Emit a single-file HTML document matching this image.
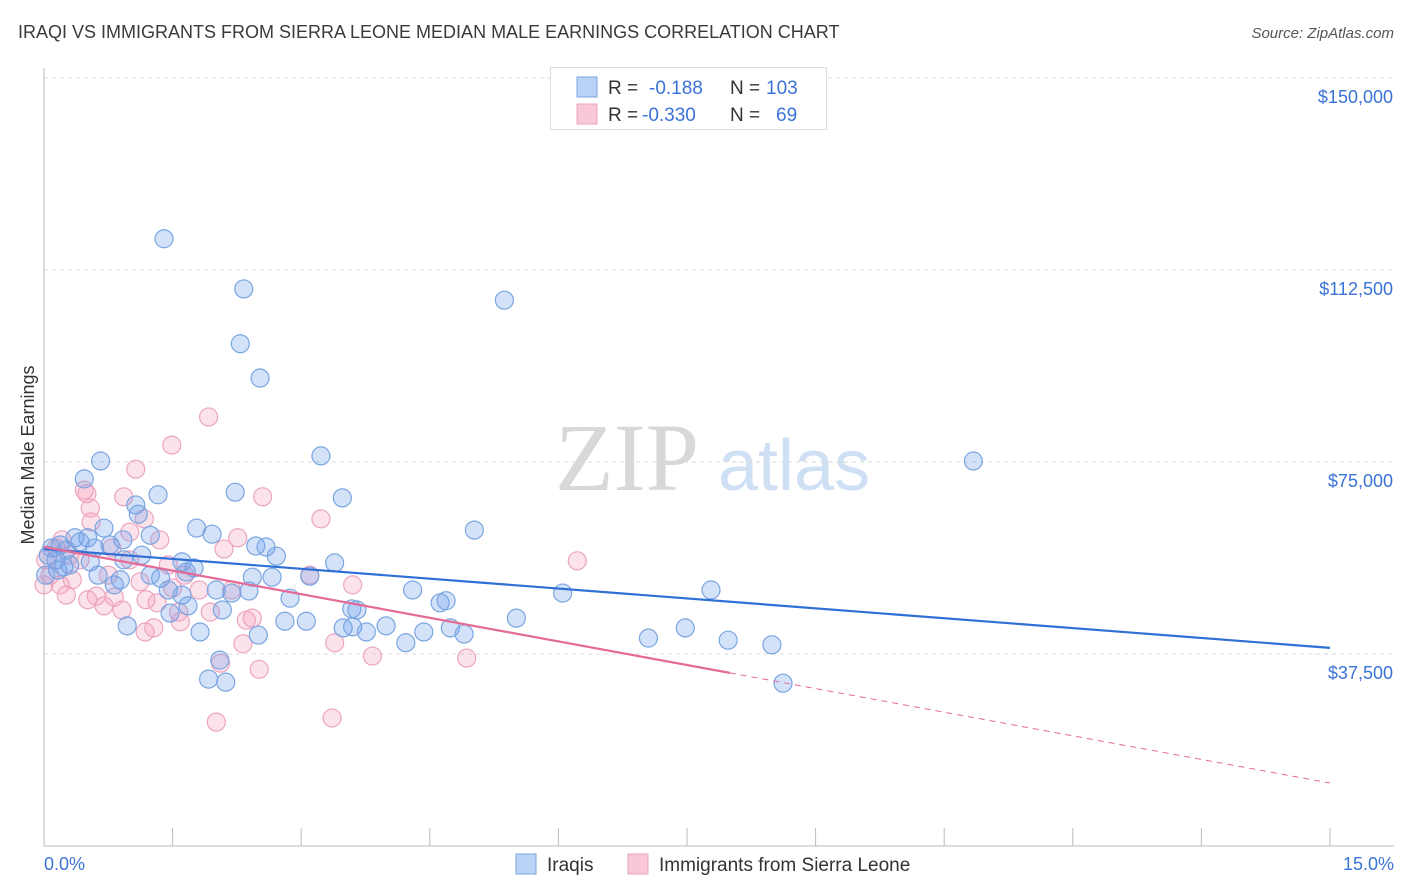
<!DOCTYPE html>
<html><head><meta charset="utf-8">
<style>
body{margin:0;background:#fff;font-family:"Liberation Sans",sans-serif;}
#wrap{position:relative;width:1406px;height:892px;overflow:hidden;}
.t{position:absolute;white-space:nowrap;}
</style></head><body>
<div id="wrap">
<div class="t" style="left:18px;top:22px;font-size:18px;color:#3a3a3a;">IRAQI VS IMMIGRANTS FROM SIERRA LEONE MEDIAN MALE EARNINGS CORRELATION CHART</div>
<div class="t" style="right:12px;top:25px;font-size:15px;color:#555;font-style:italic;">Source: ZipAtlas.com</div>
<svg id="svg" width="1406" height="892" style="position:absolute;left:0;top:0"></svg>
</div>
<script>
const xTicks=[0,1.5,3,4.5,6,7.5,9,10.5,12,13.5,15];
const yTicks=[37.5,75,112.5,150];
const yTickLabels=["$37,500","$75,000","$112,500","$150,000"];
const iraqX=[1.40,2.33,2.29,2.52,5.37,10.84,0.66,3.23,0.47,1.33,2.23,3.48,1.07,1.10,5.02,1.78,1.96,0.70,1.24,0.36,0.51,0.92,0.19,0.09,0.05,0.14,0.23,0.54,0.93,1.14,1.61,1.75,2.47,2.59,2.71,3.39,0.63,0.89,0.82,1.24,1.36,1.66,2.43,2.66,3.10,1.45,1.61,2.01,2.19,2.39,2.87,4.30,6.05,7.78,4.62,4.69,1.68,2.08,3.59,3.65,1.47,5.51,2.81,3.06,0.97,1.82,2.50,3.49,3.60,3.76,3.99,4.22,4.43,4.74,4.90,7.05,7.48,7.98,8.49,2.05,1.92,2.12,8.62,0.16,0.30,0.42,0.26,0.02,0.77,0.59];
const iraqY=[118.6,108.8,98.1,91.4,106.6,75.2,75.2,76.2,71.7,68.6,69.1,68.0,66.6,64.8,61.7,62.1,60.9,62.1,60.7,60.2,60.2,59.8,58.8,58.2,56.8,55.9,54.5,55.5,55.9,56.8,55.5,54.3,58.6,58.4,56.6,55.3,52.9,52.0,51.0,52.9,52.3,53.5,52.5,52.5,52.7,50.0,49.0,50.0,49.4,49.8,48.4,50.0,49.4,50.0,47.5,47.9,46.9,46.1,46.3,46.1,45.5,44.5,43.9,43.9,43.0,41.8,41.2,42.6,42.8,41.8,43.0,39.7,41.8,42.6,41.4,40.6,42.6,40.2,39.3,36.3,32.6,32.0,31.8,53.9,54.9,59.4,57.8,52.9,58.8,58.2];
const sierraX=[1.92,1.49,1.07,0.47,0.50,0.93,2.55,1.17,0.54,0.55,1.00,3.23,2.26,2.10,1.35,0.21,0.14,0.30,0.02,0.07,0.19,0.33,0.42,0.79,1.00,0.75,1.12,1.45,1.64,1.50,1.81,2.19,3.10,3.60,6.22,0.61,0.82,1.19,1.32,0.91,0.70,1.57,1.94,2.36,2.43,1.59,1.18,1.28,2.32,3.39,3.83,4.93,2.06,2.51,2.01,3.36,0.00,0.26,0.51];
const sierraY=[83.8,78.3,73.6,69.5,68.8,68.2,68.2,63.9,66.0,63.3,61.3,63.9,60.2,58.0,59.8,59.8,58.2,56.8,55.9,52.9,51.0,52.0,55.9,58.2,55.9,52.9,51.6,54.9,52.9,50.4,50.0,50.0,52.9,51.0,55.7,48.8,48.6,48.1,47.5,46.1,46.9,45.7,45.7,44.1,44.5,43.8,41.8,42.6,39.5,39.7,37.1,36.7,35.7,34.5,24.2,25.0,51.0,49.0,48.1];
const iraqTrend=[58.0,38.7];
const sierraTrend=[58.4,12.3];
const sierraSolidEnd=8.0;

const X=v=>44+v/15*1286;
const Y=v=>78+(150-v)/37.5*192;
const svg=document.getElementById('svg');
const NS='http://www.w3.org/2000/svg';
function mk(tag,attrs,parent){const e=document.createElementNS(NS,tag);for(const k in attrs)e.setAttribute(k,attrs[k]);(parent||svg).appendChild(e);return e;}

// watermark
let wm=mk('text',{x:555,y:490,'font-size':96,fill:'#d8d8d8','font-family':'Liberation Serif, serif'});wm.textContent='ZIP';

let wm2=mk('text',{x:718,y:490,'font-size':72,fill:'#cfe0f5','font-family':'Liberation Sans, sans-serif'});wm2.textContent='atlas';


// gridlines
yTicks.forEach((t,i)=>{
 const g=mk('line',{x1:44,x2:1394,y1:Y(t),y2:Y(t),stroke:'#d8d8d8','stroke-dasharray':'4,4'});
 
 const l=mk('text',{x:1393,y:Y(t)+25,'text-anchor':'end','font-size':18,fill:'#3b73d6'});l.textContent=yTickLabels[i];
 
});
// axes
let ax=mk('line',{x1:44,x2:1394,y1:846,y2:846,stroke:'#bbb'});
let ay=mk('line',{x1:44,x2:44,y1:68,y2:846,stroke:'#bbb'});
xTicks.forEach(t=>{const k=mk('line',{x1:X(t),x2:X(t),y1:828,y2:846,stroke:'#bbb'});});
let x0=mk('text',{x:44,y:870,'font-size':18,fill:'#3b73d6'});x0.textContent='0.0%';
let x1=mk('text',{x:1394,y:870,'font-size':18,fill:'#3b73d6','text-anchor':'end'});x1.textContent='15.0%';
let yt=mk('text',{x:0,y:0,'font-size':18,fill:'#333','text-anchor':'middle',transform:'translate(34,455) rotate(-90)'});yt.textContent='Median Male Earnings';

// points
function pts(xs,ys,fill,stroke,name){xs.forEach((x,i)=>{const c=mk('circle',{cx:X(x),cy:Y(ys[i]),r:9,fill:fill,stroke:stroke,'stroke-width':1.2});
 });}
pts(sierraX,sierraY,'rgba(244,160,190,0.3)','#eca5bf','sierra-leone-point');
pts(iraqX,iraqY,'rgba(110,160,235,0.3)','#7aa5e0','iraqi-point');

// trends
let tb=mk('line',{x1:X(0),y1:Y(iraqTrend[0]),x2:X(15),y2:Y(iraqTrend[1]),stroke:'#2f6fd6','stroke-width':2.2});

const sy=x=>sierraTrend[0]+(sierraTrend[1]-sierraTrend[0])*x/15;
let tp=mk('line',{x1:X(0),y1:Y(sy(0)),x2:X(sierraSolidEnd),y2:Y(sy(sierraSolidEnd)),stroke:'#e66a96','stroke-width':2.2});

let td=mk('line',{x1:X(sierraSolidEnd),y1:Y(sy(sierraSolidEnd)),x2:X(15),y2:Y(sy(15)),stroke:'#e66a96','stroke-width':1,'stroke-dasharray':'6,5'});


// top legend
let lg=mk('rect',{x:550.5,y:67.5,width:276,height:62,fill:'#fff',stroke:'#ddd'});
[[77,'#b9d2f5','#7aa5e0','R = ','-0.188','N = ','103',649],[104,'#f9c8d7','#eca5bf','R = ','-0.330','N = ',' 69',642]].forEach((r,i)=>{
 const s=mk('rect',{x:577,y:r[0],width:20,height:20,fill:r[1],stroke:r[2]});
 const t=mk('text',{x:608,y:r[0]+17,'font-size':19,fill:'#333'});
 
 t.innerHTML='R = <tspan x="'+r[7]+'" fill="#3b73d6">'+r[4]+'</tspan><tspan x="730">N =</tspan><tspan x="'+(i?776:766)+'" fill="#3b73d6">'+r[6].trim()+'</tspan>';
});

// bottom legend
[[516,'#b9d2f5','#7aa5e0','Iraqis','legend-iraqis'],[628,'#f9c8d7','#eca5bf','Immigrants from Sierra Leone','legend-sierra-leone']].forEach(r=>{
 const s=mk('rect',{x:r[0],y:854,width:20,height:20,fill:r[1],stroke:r[2]});
 const t=mk('text',{x:r[0]+31,y:871,'font-size':19,fill:'#333'});t.textContent=r[3];
});
</script>
</body></html>
